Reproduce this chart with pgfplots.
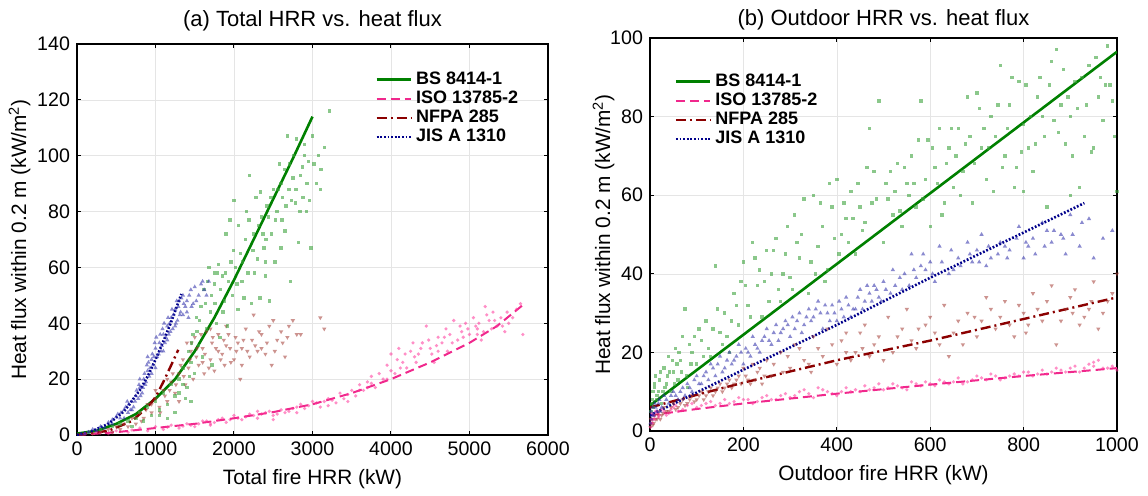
\documentclass[border=0pt]{standalone}
\usepackage{fontspec}
\setmainfont{Liberation Sans}
\usepackage{pgfplots}
\pgfplotsset{compat=1.18}
\definecolor{bsline}{HTML}{008000}
\definecolor{bspt}{HTML}{3DA33D}
\definecolor{isoline}{HTML}{F0288C}
\definecolor{isopt}{HTML}{FF3399}
\definecolor{nfline}{HTML}{8B0000}
\definecolor{nfpt}{HTML}{A33A33}
\definecolor{jisline}{HTML}{00008B}
\definecolor{jispt}{HTML}{2A2AA8}
\pgfplotsset{
  myaxis/.style={
    scale only axis,
    /pgf/number format/assume math mode=true,
    /pgf/number format/1000 sep={},
    tick label style={font=\fontsize{9.8}{12}\selectfont},
    label style={font=\fontsize{10.4}{12}\selectfont},
    title style={font=\fontsize{11}{13}\selectfont},
    grid=major, major grid style={draw=black!10, line width=0.3pt},
    major tick length=2pt, tick style={black, line width=0.5pt},
    axis line style={line width=0.7pt},
    legend style={draw=none, fill=none, font=\fontsize{9}{10}\selectfont\bfseries, nodes={inner ysep=0.9pt}},
    legend cell align=left,
  },
  bsp/.style={only marks, mark=square*, mark size=0.85pt, color=bspt, mark options={draw opacity=0, fill=bspt, fill opacity=0.6}, forget plot},
  isop/.style={only marks, mark=*, mark size=0.9pt, color=isopt, mark options={draw opacity=0, fill=isopt, fill opacity=0.55}, forget plot},
  nfp/.style={only marks, mark=triangle*, mark size=1.25pt, color=nfpt, mark options={rotate=180, draw opacity=0, fill=nfpt, fill opacity=0.55}, forget plot},
  jisp/.style={only marks, mark=triangle*, mark size=1.25pt, color=jispt, mark options={draw opacity=0, fill=jispt, fill opacity=0.55}, forget plot},
  bsl/.style={no marks, draw=bsline, line width=1.3pt, solid},
  isol/.style={no marks, draw=isoline, line width=1.0pt, dash pattern=on 4.5pt off 2.5pt},
  nfl/.style={no marks, draw=nfline, line width=1.2pt, dash pattern=on 5pt off 2pt on 1pt off 2pt},
  jisl/.style={no marks, draw=jisline, line width=1.3pt, dash pattern=on 0.9pt off 0.9pt},
}
\begin{document}
\begin{tikzpicture}
\useasboundingbox (-38.5pt,-30pt) rectangle (535.5pt,217.5pt);
\begin{axis}[myaxis,
  width=235.5pt, height=195.5pt,
  xmin=0, xmax=6000, ymin=0, ymax=140,
  xtick={0,1000,...,6000}, ytick={0,20,...,140},
  title={(a) Total HRR vs. heat flux},
  title style={yshift=-3pt},
  xlabel={Total fire HRR (kW)},
  ylabel={Heat flux within 0.2 m (kW/m\textsuperscript{2})},
  ylabel shift=-3.5pt,
  legend style={at={(0.62,0.945)}, anchor=north west},
]
\addplot[isop] coordinates {(100,0.5)(250,1)(400,0.5)(500,1.5)(650,1)(800,2.5)(900,1.5)(1000,3)(1100,2)(1200,3.5)(1300,2.5)(1400,4)(1500,3)(1600,5)(1700,4)(1800,5.5)(1900,4.5)(2000,7)(2100,5.5)(2200,7.5)(2300,6)(2400,8)(2500,7)(2600,9)(2700,8.5)(2800,10)(2900,9.5)(3000,12)(3100,10)(3200,13)(3300,11.5)(3350,15)(3400,13)(3500,16)(3550,14)(3600,18)(3650,16)(3700,19)(3800,17)(3850,22)(3900,20)(3950,25)(4000,29)(4050,22)(4100,31)(4150,26)(4200,24)(4250,30)(4300,28)(4400,33)(4450,39)(4500,31)(4550,26)(4600,35)(4650,33)(4700,38)(4750,36)(4800,41)(4850,34)(4900,37)(4950,40)(5000,36)(5050,42)(5100,38)(5150,34)(5200,46)(5250,41)(5300,44)(5350,39)(5400,42)(5450,37)(5500,40)(5600,45)(5680,36)(5650,47)(2500,5.5)(3200,10.5)(1700,3.5)(2300,8.5)(2800,8)(3450,12)(3750,18.5)(4350,29)(4600,30)(5100,36)
(1450,3.5)(1550,4)(1650,5)(1750,4.5)(1850,6)(1950,5.5)(2050,6)(2150,6.5)(2250,7)(2350,7.5)(2450,8.5)(2550,7.5)(2650,8)(2750,9.5)(2850,11)(2950,10.5)(3050,11.5)(3150,12)(3250,12.5)(3450,14.5)(3600,16)(3700,17)(3750,21)(3950,20)(4000,23)(4080,27)(4120,24)(4180,29)(4280,33)(4320,26)(4380,31)(4480,34)(4520,29)(4580,32)(4680,35)(4720,30)(4780,33)(4880,39)(4920,35)(4980,38)(5080,39)(5120,40)(5180,37)(5220,43)(5280,38)(5320,41)(5420,39)(5480,44)(5550,42)(300,0.8)(700,1.8)(1150,2.8)(1350,3.2)};
\addplot[nfp] coordinates {(200,0.5)(300,1)(400,2)(450,1)(500,3)(550,2)(600,4)(650,3)(700,6)(750,4)(800,8)(850,6)(900,11)(950,8)(1000,13)(1050,10)(1100,16)(1150,12)(1200,19)(1250,15)(1300,22)(1350,27)(1380,18)(1400,33)(1420,24)(1450,30)(1480,20)(1500,35)(1520,28)(1550,25)(1600,31)(1620,22)(1650,37)(1700,27)(1720,33)(1750,23)(1800,36)(1850,29)(1880,25)(1900,39)(1950,31)(2000,27)(2020,35)(2050,33)(2080,20)(2100,31)(2150,38)(2200,28)(2230,34)(2250,43)(2300,30)(2350,36)(2400,29)(2450,39)(2480,25)(2500,41)(2550,34)(2600,37)(2650,28)(2700,39)(2750,41)(2800,36)(2850,36)(3100,42)(3150,38)(1300,12)(1150,20)(1000,16)(1600,26)(1700,38)(1900,32)(2100,25)(2350,31)(1800,30)
(1120,14)(1180,16)(1220,22)(1260,18)(1320,25)(1360,21)(1440,27)(1460,33)(1530,31)(1580,36)(1630,29)(1680,24)(1730,35)(1770,31)(1830,27)(1870,34)(1930,36)(1960,26)(2030,30)(2120,34)(2170,30)(2270,32)(2320,37)(2420,33)(2520,30)(2620,33)(2680,35)(1060,8)(950,11)(880,9)(820,5)};
\addplot[bsp] coordinates {(150,1)(300,2)(450,3)(550,4)(650,5)(700,3)(750,6)(800,8)(850,5)(900,10)(950,7)(1000,12)(1050,9)(1100,15)(1150,11)(1200,18)(1250,14)(1300,20)(1350,24)(1400,17)(1420,30)(1450,26)(1480,36)(1500,22)(1520,42)(1550,32)(1580,46)(1600,28)(1620,52)(1650,38)(1680,60)(1700,44)(1720,25)(1750,54)(1780,40)(1800,61)(1820,35)(1850,57)(1880,48)(1900,72)(1920,39)(1950,77)(1980,50)(2000,84)(2020,60)(2050,45)(2080,65)(2100,55)(2130,49)(2150,70)(2180,58)(2200,93)(2220,47)(2250,72)(2280,85)(2300,63)(2330,49)(2350,78)(2380,67)(2400,57)(2420,82)(2450,48)(2480,72)(2500,88)(2520,62)(2550,80)(2580,97)(2600,67)(2620,85)(2650,73)(2680,107)(2700,88)(2720,55)(2750,92)(2780,83)(2800,106)(2820,69)(2850,93)(2880,85)(2900,100)(2920,80)(2950,98)(2980,67)(3000,107)(3050,90)(3080,100)(3100,88)(3150,103)(3220,116)(2900,104)(2600,90)(2400,62)(1750,58)
(1300,15)(1350,18)(1380,13)(1430,21)(1460,33)(1530,37)(1560,41)(1640,47)(1660,55)(1710,50)(1760,47)(1790,58)(1830,52)(1860,44)(1890,58)(1930,55)(1960,62)(1990,66)(2040,54)(2060,75)(2110,62)(2160,80)(2190,77)(2240,66)(2260,58)(2310,75)(2340,87)(2370,72)(2410,70)(2440,78)(2470,85)(2530,77)(2560,88)(2610,77)(2640,95)(2660,82)(2710,97)(2730,84)(2760,100)(2790,88)(2840,80)(2870,96)(2930,90)(2960,84)(3020,97)(3110,95)(1450,12)(1250,8)(1150,6)(1050,7)};
\addplot[jisp] coordinates {(50,0.2)(100,0.5)(150,1)(200,2)(250,1.5)(300,3)(350,2.5)(400,4.5)(450,4)(500,6.5)(550,6)(600,9)(650,8)(700,12)(720,10)(750,14)(780,13)(800,17)(830,15)(850,20)(870,18)(900,23)(920,21)(950,27)(970,25)(1000,31)(1020,28)(1050,33)(1070,30)(1100,36)(1120,33)(1150,39)(1170,36)(1200,42)(1220,38)(1250,45)(1280,41)(1300,48)(1320,44)(1350,50)(1380,46)(1400,48)(1420,42)(1450,52)(1480,47)(1500,53)(1550,50)(1580,54)(1620,52)(1680,55)(900,28)(1000,24)(1100,30)(800,20)(1250,39)(1350,43)(600,6)(700,9)(950,22)(1150,34)
(620,10)(660,11)(680,9)(740,12)(760,16)(790,18)(810,14)(840,17)(860,22)(880,19)(890,25)(910,26)(930,24)(960,29)(980,28)(990,33)(1010,35)(1040,29)(1060,36)(1080,32)(1090,38)(1110,40)(1130,35)(1160,42)(1180,40)(1190,37)(1210,45)(1230,43)(1260,40)(1270,48)(1290,46)(1310,43)(1330,49)(1360,47)(1400,44)(1430,50)(1460,46)(1520,48)(1600,55)(1650,50)(450,5.5)(520,7.5)(560,8)(640,12)};
\addplot[bsl] coordinates {(0,0.5)(250,1.5)(500,4)(750,7.5)(1000,13)(1250,20)(1500,30)(1750,42)(2000,55.5)(2250,70)(2500,84.5)(2750,99)(3000,114)};
\addlegendentry{BS 8414-1}
\addplot[isol] coordinates {(0,0)(500,1)(1000,2.5)(1500,4)(2000,6)(2500,8.2)(3000,11)(3500,15)(4000,20)(4500,26)(5000,33)(5350,39)(5700,47)};
\addlegendentry{ISO 13785-2}
\addplot[nfl] coordinates {(0,0)(400,1.5)(700,5)(900,10)(1000,13.5)(1100,19)(1200,25)(1290,30.5)};
\addlegendentry{NFPA 285}
\addplot[jisl] coordinates {(0,0)(200,1.5)(400,4)(600,8.5)(800,16)(900,21)(1000,27)(1100,33.5)(1200,40.5)(1330,50.5)};
\addlegendentry{JIS A 1310}
\end{axis}
\begin{axis}[myaxis, at={(286.5pt,2pt)},
  width=233.5pt, height=196.5pt,
  xmin=0, xmax=1000, ymin=0, ymax=100,
  xtick={0,200,...,1000}, ytick={0,20,...,100},
  title={(b) Outdoor HRR vs. heat flux},
  title style={yshift=-5.5pt},
  xlabel={Outdoor fire HRR (kW)},
  ylabel={Heat flux within 0.2 m (kW/m\textsuperscript{2})},
  ylabel shift=-9pt,
  legend style={at={(0.039,0.925)}, anchor=north west},
]
\addplot[bsp] coordinates {(2,5)(5,8)(8,6)(10,11)(15,9)(20,13)(25,7)(30,16)(35,12)(40,19)(45,10)(50,15)(55,21)(60,13)(65,18)(70,24)(75,31)(80,11)(90,20)(100,17)(110,23)(120,28)(130,19)(140,42)(150,25)(160,30)(170,20)(180,35)(190,27)(200,43)(210,32)(220,48)(230,37)(240,29)(250,46)(260,40)(270,49)(280,33)(290,45)(300,39)(310,55)(320,44)(330,59)(340,35)(350,60)(360,47)(370,52)(380,41)(390,57)(400,64)(410,50)(420,54)(430,61)(440,45)(450,57)(460,53)(470,77)(480,66)(490,84)(500,48)(510,59)(520,55)(530,68)(540,52)(550,63)(560,70)(570,57)(580,84)(590,64)(600,52)(610,67)(620,77)(630,58)(640,72)(650,62)(660,77)(670,66)(680,85)(690,58)(700,86)(710,72)(720,64)(730,80)(740,75)(750,93)(760,70)(770,83)(780,62)(790,89)(800,78)(810,72)(820,66)(830,85)(840,80)(850,57)(860,94)(870,97)(880,83)(890,73)(900,80)(910,89)(920,62)(930,75)(940,93)(950,72)(960,85)(970,79)(980,98)(990,84)(1000,61)(985,88)(955,95)(900,60)(800,61)(12,14)(28,10)(42,15)(58,17)(85,22)(105,26)(125,21)(165,24)(195,38)(235,41)(275,36)(315,48)(355,40)(395,49)(435,54)(475,58)(515,66)(555,60)(595,74)(635,68)(675,73)(715,77)(755,67)(795,71)(835,90)(875,76)(915,82)(945,71)(975,88)
(3,7)(6,10)(9,12)(14,8)(18,10)(22,15)(32,11)(38,14)(48,18)(52,12)(62,20)(68,15)(78,14)(88,17)(95,24)(115,19)(135,26)(145,31)(155,22)(175,28)(185,32)(205,37)(215,29)(225,44)(245,38)(255,33)(265,46)(285,40)(295,52)(305,36)(325,50)(345,43)(365,58)(375,38)(385,63)(405,45)(415,58)(425,48)(445,63)(455,51)(465,67)(485,59)(505,63)(525,61)(535,56)(545,67)(565,63)(575,74)(585,59)(605,72)(615,63)(625,55)(645,77)(655,70)(665,60)(685,75)(695,68)(705,82)(725,72)(735,61)(745,83)(765,77)(775,90)(785,67)(805,88)(815,80)(825,73)(845,75)(855,88)(865,79)(885,92)(895,85)(905,70)(925,90)(935,83)(965,90)(995,75)};
\addplot[nfp] coordinates {(1,1)(3,2)(5,3)(8,2)(10,4)(15,3)(20,5)(25,4)(30,6)(40,5)(50,7)(60,6)(70,8)(80,7)(90,9)(100,8)(110,10)(120,9)(130,11)(140,10)(150,12)(160,11)(170,13)(180,12)(190,14)(200,16)(210,13)(220,17)(230,15)(240,12)(250,18)(260,14)(280,20)(300,16)(310,22)(330,18)(350,24)(370,19)(390,22)(400,17)(420,25)(440,20)(460,27)(480,22)(500,18)(510,29)(530,24)(550,31)(570,21)(590,27)(610,25)(630,32)(640,19)(660,28)(680,30)(700,24)(720,34)(740,26)(760,33)(780,24)(800,30)(820,35)(840,28)(860,37)(870,22)(890,31)(910,36)(930,29)(950,38)(960,26)(980,33)(1000,40)(990,35)(345,15)(455,21)(575,26)(695,29)(805,25)(905,30)(945,33)(750,29)(620,22)(520,20)(420,20)
(2,3)(6,1.5)(12,3)(18,4)(22,3)(28,4.5)(35,5)(45,6)(55,5.5)(65,7)(75,6.5)(85,8)(95,7.5)(105,9)(115,8)(125,10)(135,9)(145,11)(155,10)(165,12)(175,11)(185,13)(195,12)(205,14)(215,12)(225,13)(235,16)(245,14)(265,17)(285,15)(295,19)(320,21)(340,17)(360,21)(380,26)(410,23)(430,18)(450,25)(470,19)(490,24)(540,26)(560,23)(600,29)(650,25)(670,22)(710,28)(730,31)(770,27)(790,32)(810,27)(830,31)(850,33)(880,28)(900,34)(920,27)(940,31)(970,30)};
\addplot[isop] coordinates {(1,1)(3,3)(5,2)(8,4)(10,3)(15,5)(20,4)(30,5)(40,4.5)(50,6)(60,5)(80,6.5)(100,6)(120,7)(140,6.5)(160,8)(180,7.5)(200,8)(220,7)(240,8.5)(260,8)(280,9)(300,8.5)(320,10)(340,9.5)(360,11)(380,10)(400,9)(420,11)(440,10.5)(460,11.5)(480,11)(500,10.5)(520,12)(540,11)(560,12.5)(580,11.5)(600,12)(620,13)(640,12)(660,13.5)(680,12.5)(700,14)(720,13)(740,14)(760,13.5)(780,14.5)(800,15)(820,14)(840,15.5)(860,15)(880,15.5)(900,16)(920,15)(940,17)(960,18)(980,16)(1000,15.5)(330,10.5)(350,8.5)(450,10)(550,10.5)(650,12.5)(750,13)(850,14.5)(950,16.5)
(2,2)(4,4.5)(7,3)(12,5)(18,3.5)(25,5.5)(35,4)(45,5.5)(55,6.5)(70,5.5)(90,7)(110,6.5)(130,7.5)(150,7)(170,7)(190,8.5)(210,8)(230,7.5)(250,9)(270,8)(290,9.5)(310,9)(370,10.5)(390,9.5)(410,10)(430,10)(470,10.5)(490,12)(510,11)(530,11.5)(570,12)(590,12.5)(610,11.5)(630,12.5)(670,12)(690,13)(710,13.5)(730,14.5)(770,14)(790,14)(810,15)(830,14.5)(870,16)(890,15)(910,16.5)(930,16)(950,17.5)(970,16)(990,16.5)};
\addplot[jisp] coordinates {(1,2)(2,5)(3,3)(5,6)(8,4)(10,7)(15,5)(20,8)(25,6)(30,9)(40,7)(50,10)(60,8)(70,11)(80,12)(90,10)(100,14)(110,12)(120,15)(130,17)(140,14)(150,19)(160,16)(170,20)(180,18)(190,22)(200,17)(210,20)(220,24)(230,21)(240,23)(250,26)(260,22)(270,27)(280,25)(290,28)(300,24)(310,26)(320,30)(330,27)(340,31)(350,29)(360,33)(370,26)(380,30)(390,32)(400,28)(410,31)(420,34)(430,29)(440,31)(450,36)(460,33)(470,35)(480,37)(490,34)(500,38)(520,41)(540,36)(560,45)(570,39)(590,41)(600,43)(620,47)(640,40)(660,44)(680,48)(700,46)(710,50)(730,44)(750,48)(770,46)(790,52)(800,44)(820,49)(840,53)(860,48)(880,50)(900,55)(920,47)(940,54)(950,44)(970,49)(990,51)(515,35)(535,39)(555,37)(580,42)(610,38)(650,41)(690,43)(720,42)(760,47)(810,47)(850,51)(890,45)
(5,4)(12,6)(18,7)(22,5)(35,8)(45,9)(55,9)(65,10)(75,9)(85,11)(95,13)(105,12)(115,14)(125,13)(135,16)(145,17)(155,15)(165,18)(175,17)(185,19)(195,20)(205,21)(215,19)(225,22)(235,20)(245,24)(255,23)(265,25)(275,23)(285,26)(295,27)(305,29)(315,28)(325,25)(335,29)(345,28)(355,31)(365,30)(375,32)(385,28)(395,30)(405,33)(415,29)(425,32)(435,31)(445,34)(455,31)(465,37)(475,33)(485,36)(495,33)(505,36)(525,37)(545,40)(565,41)(585,45)(605,40)(625,43)(645,46)(665,42)(685,45)(705,43)(725,47)(745,45)(765,44)(785,49)(805,48)(825,45)(845,47)(865,51)(885,49)(905,50)(925,53)};
\addplot[bsl] coordinates {(0,6.5)(1000,96.5)};
\addlegendentry{BS 8414-1}
\addplot[isol] coordinates {(0,4)(100,5.6)(200,7)(400,9.5)(600,11.8)(800,14)(1000,16)};
\addlegendentry{ISO 13785-2}
\addplot[nfl] coordinates {(0,6)(100,9.2)(200,12.3)(400,18)(600,23)(800,28.5)(1000,34)};
\addlegendentry{NFPA 285}
\addplot[jisl] coordinates {(0,4)(200,15.6)(400,27)(600,39)(800,50.5)(930,58)};
\addlegendentry{JIS A 1310}
\end{axis}
\end{tikzpicture}
\end{document}
